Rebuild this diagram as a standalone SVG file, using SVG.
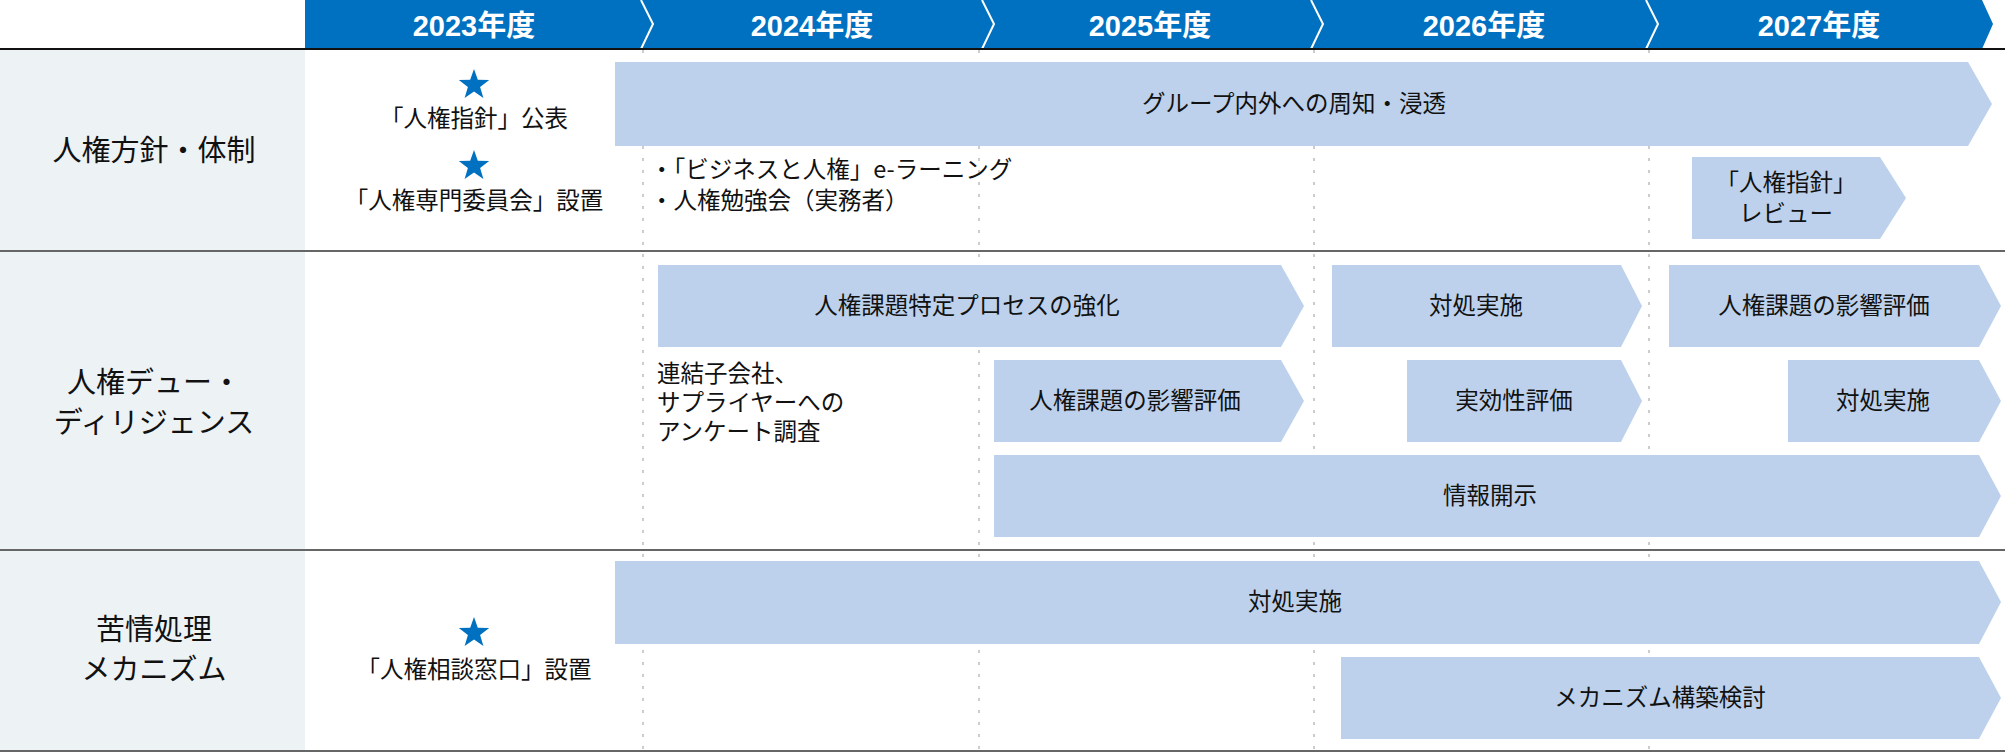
<svg xmlns="http://www.w3.org/2000/svg" width="2005" height="755" viewBox="0 0 2005 755">
<style>
.t{font-family:"Noto Sans CJK JP","Noto Sans",sans-serif;fill:#111;font-size:23.5px}
.c{text-anchor:middle}
.h{font-family:"Liberation Sans","Noto Sans CJK JP",sans-serif;font-weight:bold;fill:#fff;font-size:29px;text-anchor:middle}
.l{font-size:29px}
.bar{fill:#BDD1EC}
.star{fill:#0071C1}
</style>
<defs><polygon id="star" points="0,-16 3.8,-5.2 15.2,-4.9 6.1,1.9 9.4,12.9 0,6.4 -9.4,12.9 -6.1,1.9 -15.2,-4.9 -3.8,-5.2"/></defs>
<rect x="0" y="49" width="305" height="703" fill="#EDF2F5"/>
<g id="header">
<polygon points="305,0 1982,0 1993,24 1982,49 305,49" fill="#0071C1"/>
<polyline points="641,0 653,24 641,49" fill="none" stroke="#fff" stroke-width="2"/>
<polyline points="982,0 994,24 982,49" fill="none" stroke="#fff" stroke-width="2"/>
<polyline points="1311,0 1323,24 1311,49" fill="none" stroke="#fff" stroke-width="2"/>
<polyline points="1646,0 1658,24 1646,49" fill="none" stroke="#fff" stroke-width="2"/>
<text class="h" x="474" y="36">2023年度</text>
<text class="h" x="812" y="36">2024年度</text>
<text class="h" x="1150" y="36">2025年度</text>
<text class="h" x="1484" y="36">2026年度</text>
<text class="h" x="1819" y="36">2027年度</text>
</g>
<g id="grid" stroke="#ccc" stroke-width="2" stroke-dasharray="3,9">
<line x1="643" y1="50" x2="643" y2="752"/>
<line x1="979" y1="50" x2="979" y2="752"/>
<line x1="1314" y1="50" x2="1314" y2="752"/>
<line x1="1649" y1="50" x2="1649" y2="752"/>
</g>
<g id="rows" stroke-width="2">
<line x1="0" y1="49" x2="2005" y2="49" stroke="#111"/>
<line x1="0" y1="251" x2="2005" y2="251" stroke="#666"/>
<line x1="0" y1="550" x2="2005" y2="550" stroke="#666"/>
<line x1="0" y1="751" x2="2005" y2="751" stroke="#666"/>
</g>
<g id="labels">
<text class="t l c" x="154" y="161">人権方針・体制</text>
<text class="t l c" x="154" y="393">人権デュー・</text>
<text class="t l c" x="154" y="433">ディリジェンス</text>
<text class="t l c" x="154" y="640">苦情処理</text>
<text class="t l c" x="154" y="680">メカニズム</text>
</g>
<g id="row1">
<use href="#star" class="star" x="474" y="85"/>
<text class="t c" x="474" y="127">「人権指針」公表</text>
<use href="#star" class="star" x="474" y="166"/>
<text class="t c" x="474" y="209">「人権専門委員会」設置</text>
<g id="bar-shuchi"><polygon class="bar" points="615,62 1968,62 1992,104 1968,146 615,146"/><text class="t c" x="1294" y="112">グループ内外への周知・浸透</text></g>
<text class="t" x="650" y="178">・「ビジネスと人権」e-ラーニング</text>
<text class="t" x="650" y="209">・人権勉強会（実務者）</text>
<g id="bar-review"><polygon class="bar" points="1692,157 1880,157 1906,198 1880,239 1692,239"/><text class="t c" x="1786" y="191">「人権指針」</text><text class="t c" x="1786" y="222">レビュー</text></g>
</g>
<g id="row2">
<g id="b1"><polygon class="bar" points="658,265 1281,265 1304,306 1281,347 658,347"/><text class="t c" x="967" y="314">人権課題特定プロセスの強化</text></g>
<g id="b2"><polygon class="bar" points="1332,265 1621,265 1642,306 1621,347 1332,347"/><text class="t c" x="1476" y="314">対処実施</text></g>
<g id="b3"><polygon class="bar" points="1669,265 1979,265 2001,306 1979,347 1669,347"/><text class="t c" x="1824" y="314">人権課題の影響評価</text></g>
<g id="b4"><polygon class="bar" points="994,360 1281,360 1304,401 1281,442 994,442"/><text class="t c" x="1135" y="409">人権課題の影響評価</text></g>
<g id="b5"><polygon class="bar" points="1407,360 1621,360 1642,401 1621,442 1407,442"/><text class="t c" x="1514" y="409">実効性評価</text></g>
<g id="b6"><polygon class="bar" points="1788,360 1979,360 2001,401 1979,442 1788,442"/><text class="t c" x="1883" y="409">対処実施</text></g>
<g id="b7"><polygon class="bar" points="994,455 1979,455 2001,496 1979,537 994,537"/><text class="t c" x="1490" y="504">情報開示</text></g>
<text class="t" x="657" y="382">連結子会社、</text>
<text class="t" x="657" y="411">サプライヤーへの</text>
<text class="t" x="657" y="440">アンケート調査</text>
</g>
<g id="row3">
<use href="#star" class="star" x="474" y="633"/>
<text class="t c" x="474" y="678">「人権相談窓口」設置</text>
<g id="b8"><polygon class="bar" points="615,561 1979,561 2001,602 1979,644 615,644"/><text class="t c" x="1295" y="610">対処実施</text></g>
<g id="b9"><polygon class="bar" points="1341,657 1979,657 2001,698 1979,739 1341,739"/><text class="t c" x="1660" y="706">メカニズム構築検討</text></g>
</g>
</svg>
